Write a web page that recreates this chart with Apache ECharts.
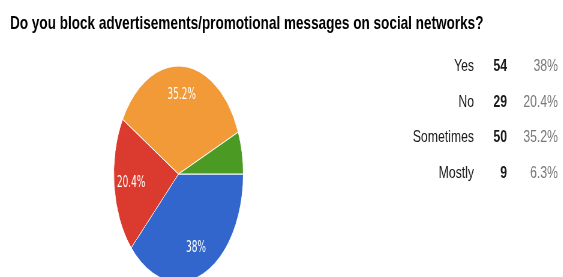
<!DOCTYPE html>
<html style="height: 100%">
	<head>
		<meta charset="utf-8">
		<style>
			body { margin: 0; overflow: hidden; background: #fff; }
			/* the reference picture is squeezed sideways, so draw wide and squeeze */
			#container { width: 938px; height: 277px; transform: scaleX(0.6); transform-origin: 0 0; }
		</style>
	</head>
	<body>
		<div id="container"></div>
		<script type="text/javascript" src="https://cdn.jsdelivr.net/npm/echarts@6/dist/echarts.min.js"></script>
		<script type="text/javascript">
			const titleText = 'Do you block advertisements/promotional messages on social networks?';
			const categories = ['Yes', 'No', 'Sometimes', 'Mostly'];
			const counts = [54, 29, 50, 9];
			const colors = ['#3366cc', '#db3a2e', '#f29a37', '#4a9a23'];

			var dom = document.getElementById('container');
			var myChart = echarts.init(dom);

			const total = counts.reduce(function(a, b) { return a + b; }, 0);
			function pct(v) {
				return +(v / total * 100).toFixed(1) + '%';
			}

			const pieData = categories.map(function(name, i) {
				return { name: name, value: counts[i], itemStyle: { color: colors[i] } };
			});

			// side table: label / count / percent
			const textScale = 1.2;
			const rowTop = 66.5;
			const rowStep = 35.5;
			const elements = [{
				type: 'text',
				x: 16.7,
				y: 23.3,
				scaleX: 1.188,
				style: {
					text: titleText,
					font: 'bold 19px "Liberation Sans", Arial, sans-serif',
					fill: '#000',
					align: 'left',
					verticalAlign: 'middle'
				}
			}];
			categories.forEach(function(name, i) {
				const y = rowTop + i * rowStep;
				elements.push({
					type: 'text', x: 790, y: y, scaleX: textScale,
					style: { text: name, font: '17px "Liberation Sans", Arial, sans-serif', fill: '#1a1a1a', align: 'right', verticalAlign: 'middle' }
				});
				elements.push({
					type: 'text', x: 845, y: y, scaleX: textScale,
					style: { text: String(counts[i]), font: 'bold 17px "Liberation Sans", Arial, sans-serif', fill: '#1a1a1a', align: 'right', verticalAlign: 'middle' }
				});
				elements.push({
					type: 'text', x: 930, y: y, scaleX: textScale,
					style: { text: pct(counts[i]), font: '17px "Liberation Sans", Arial, sans-serif', fill: '#777', align: 'right', verticalAlign: 'middle' }
				});
			});

			var option = {
				animation: false,
				series: [{
					type: 'pie',
					center: [297.5, 174],
					radius: 108,
					startAngle: 0,
					clockwise: true,
					silent: true,
					label: { show: false },
					labelLine: { show: false },
					itemStyle: { borderColor: '#fff', borderWidth: 1 },
					data: pieData
				}, {
					// transparent ring only to place the percent labels further out
					type: 'pie',
					center: [297.5, 174],
					radius: [45, 108],
					startAngle: 0,
					clockwise: true,
					silent: true,
					minShowLabelAngle: 30,
					avoidLabelOverlap: false,
					itemStyle: { color: 'transparent' },
					label: {
						show: true,
						position: 'inside',
						color: '#fff',
						fontSize: 15,
						fontFamily: '"DejaVu Sans", sans-serif',
						formatter: function(p) {
							return +p.percent.toFixed(1) + '%';
						}
					},
					labelLine: { show: false },
					data: categories.map(function(name, i) {
						return { name: name, value: counts[i] };
					})
				}],
				graphic: { elements: elements }
			};
			myChart.setOption(option);
		</script>
	</body>
</html>
